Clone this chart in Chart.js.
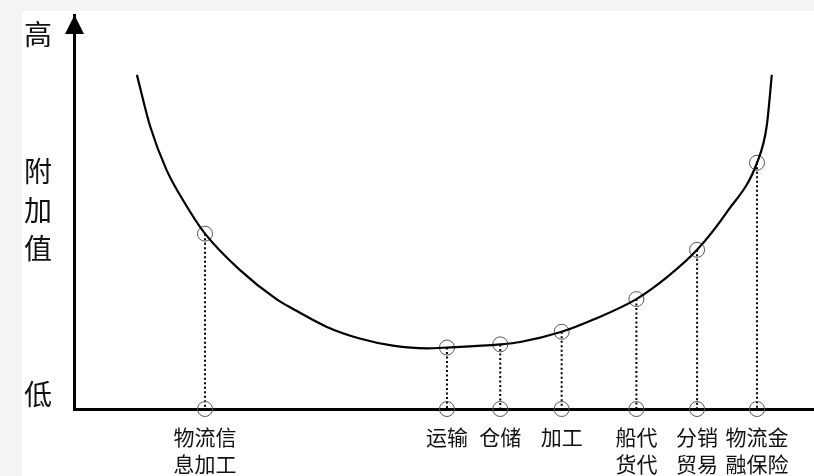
<!DOCTYPE html>
<html>
<head>
<meta charset="utf-8">
<title>物流微笑曲线</title>
<script src="https://cdn.jsdelivr.net/npm/chart.js"></script>
<style>
    html, body {
        margin: 0;
        padding: 0;
        background: #f4f4f4;
        width: 814px;
        height: 476px;
        overflow: hidden;
    }
    .chart-box {
        position: absolute;
        left: 22px;
        top: 11px;
        width: 792px;
        height: 465px;
        background: #fff;
    }
</style>
</head>
<body>
<div class="chart-box">
    <canvas id="smile" width="792" height="465"></canvas>
</div>
<script>
// business links along the logistics chain (x position, value added)
const categories = [
    ['物流信', '息加工'],
    ['运输'],
    ['仓储'],
    ['加工'],
    ['船代', '货代'],
    ['分销', '贸易'],
    ['物流金', '融保险']
];
const categoryX = [17.7, 50.4, 57.6, 65.9, 76.0, 84.2, 92.3];
const valueAdded = [44.5, 15.6, 16.4, 19.6, 27.9, 40.4, 62.5];

// the smile curve
const curveX = [8.5, 10.3, 12.5, 14.8, 17.7, 22.4, 27.4, 29.6, 34.1, 38.6, 43.1, 47.7,
    50.4, 57.6, 60.3, 65.9, 70.2, 76.0, 80.1, 84.2, 88.2, 92.3, 93.6, 94.3];
const curveY = [84.8, 71.7, 60.7, 52.8, 44.5, 35.3, 27.8, 25.4, 20.9, 17.9, 16.1, 15.4,
    15.6, 16.4, 17.0, 19.6, 22.7, 27.9, 33.4, 40.4, 49.9, 62.5, 71.7, 84.8];

// y axis wording: 高 / 附加值 / 低
const yTickValues = [95.2, 50.5, 3.6];
const yTickLabels = ['高', ['附', '加', '值'], '低'];

const FONT = '"Noto Sans CJK SC", "Noto Sans", sans-serif';

const curveData = curveX.map((x, i) => ({ x, y: curveY[i] }));
const onCurve = categoryX.map((x, i) => ({ x, y: valueAdded[i] }));
const onAxis = categoryX.map(x => ({ x, y: 0 }));
const dropLines = categoryX.flatMap((x, i) => [
    { x, y: valueAdded[i] },
    { x, y: 0 },
    { x, y: null }
]);

// arrow head on top of the y axis
const arrowPlugin = {
    id: 'arrow',
    afterDraw(chart) {
        const { ctx, chartArea } = chart;
        const x = chart.scales.y.left + chart.scales.y.width + 0.5;
        const top = chartArea.top;
        ctx.save();
        ctx.fillStyle = '#000';
        ctx.beginPath();
        ctx.moveTo(x, top);
        ctx.lineTo(x - 9.5, top + 19);
        ctx.lineTo(x + 9.5, top + 19);
        ctx.closePath();
        ctx.fill();
        ctx.restore();
    }
};

const circleStyle = {
    type: 'line',
    showLine: false,
    pointRadius: 7.5,
    pointHoverRadius: 7.5,
    pointBorderWidth: 1,
    pointBorderColor: '#555',
    pointBackgroundColor: 'rgba(0,0,0,0)',
    clip: false
};

new Chart(document.getElementById('smile'), {
    type: 'line',
    data: {
        datasets: [
            {
                data: curveData,
                borderColor: '#000',
                borderWidth: 2.2,
                cubicInterpolationMode: 'monotone',
                pointRadius: 0,
                fill: false,
                clip: false
            },
            { ...circleStyle, data: onCurve },
            { ...circleStyle, data: onAxis },
            {
                data: dropLines,
                borderColor: '#000',
                borderWidth: 2,
                borderDash: [2, 2.5],
                pointRadius: 0,
                spanGaps: false,
                clip: false
            }
        ]
    },
    options: {
        responsive: false,
        animation: false,
        devicePixelRatio: 1,
        events: [],
        layout: { autoPadding: false, padding: { left: 2, top: 4, right: 0, bottom: 0 } },
        plugins: {
            legend: { display: false },
            tooltip: { enabled: false }
        },
        scales: {
            x: {
                type: 'linear',
                min: 0,
                max: 100,
                grid: { display: false, drawTicks: false },
                border: { display: true, color: '#000', width: 3 },
                afterBuildTicks(scale) {
                    scale.ticks = categoryX.map(v => ({ value: v }));
                },
                afterFit(scale) {
                    scale.height = 67;
                    scale.paddingLeft = 0;
                    scale.paddingRight = 0;
                },
                ticks: {
                    autoSkip: false,
                    maxRotation: 0,
                    padding: 14,
                    color: '#111',
                    font: { family: FONT, size: 21, lineHeight: 1.3 },
                    callback: (value, index) => categories[index]
                }
            },
            y: {
                type: 'linear',
                min: 0,
                max: 100,
                grid: { display: false, drawTicks: false },
                border: { display: true, color: '#000', width: 3 },
                afterBuildTicks(scale) {
                    scale.ticks = yTickValues.map(v => ({ value: v }));
                },
                afterFit(scale) {
                    scale.width = 50;
                    scale.paddingTop = 0;
                    scale.paddingBottom = 0;
                },
                ticks: {
                    autoSkip: false,
                    crossAlign: 'far',
                    color: '#111',
                    font: { family: FONT, size: 28, lineHeight: 1.375 },
                    callback: (value, index) => yTickLabels[index]
                }
            }
        }
    },
    plugins: [arrowPlugin]
});
</script>
</body>
</html>
